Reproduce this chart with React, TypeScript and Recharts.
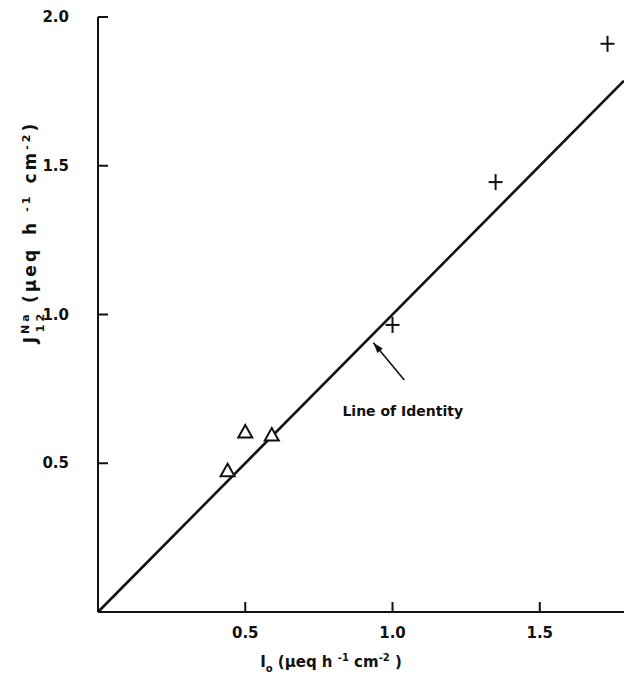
import React from "react";
import {
  ScatterChart,
  Scatter,
  XAxis,
  YAxis,
  ZAxis,
  ReferenceLine,
} from "recharts";

// ─── Data ─────────────────────────────────────────────────────────────────────

const xTicks = [0.5, 1.0, 1.5];
const yTicks = [0.5, 1.0, 1.5, 2.0];

// triangles: low-flux group
const triangleX = [0.44, 0.5, 0.59];
const triangleY = [0.475, 0.605, 0.595];

// crosses: high-flux group
const plusX = [1.0, 1.35, 1.73];
const plusY = [0.965, 1.445, 1.91];

// line of identity end points (x = y)
const identityEnds = [0, 1.786];

// annotation: label anchor, arrow tail and tip (data units)
const labelAt = { x: 0.83, y: 0.675 };
const arrowTail = { x: 1.04, y: 0.78 };
const arrowTip = { x: 0.935, y: 0.905 };

const triangles = triangleX.map((x, i) => ({ x, y: triangleY[i] }));
const pluses = plusX.map((x, i) => ({ x, y: plusY[i] }));

const FONT = "'DejaVu Sans', 'Liberation Sans', sans-serif";
const INK = "#111";

// ─── Ticks (inward tick marks, labels outside) ───────────────────────────────

function XTick({ x, y, payload }: any) {
  return (
    <g>
      <line x1={x} y1={y} x2={x} y2={y - 10} stroke={INK} strokeWidth={2} />
      <text
        x={x}
        y={y + 26}
        textAnchor="middle"
        fontSize={15}
        fontFamily={FONT}
        fontWeight={600}
        fill={INK}
      >
        {payload.value.toFixed(1)}
      </text>
    </g>
  );
}

function YTick({ x, y, payload }: any) {
  return (
    <g>
      <line x1={x} y1={y} x2={x + 10} y2={y} stroke={INK} strokeWidth={2} />
      <text
        x={x - 29}
        y={y + 5}
        textAnchor="end"
        fontSize={15}
        fontFamily={FONT}
        fontWeight={600}
        fill={INK}
      >
        {payload.value.toFixed(1)}
      </text>
    </g>
  );
}

// ─── Marker shapes ───────────────────────────────────────────────────────────

function PlusShape({ cx, cy }: any) {
  return (
    <g stroke={INK} strokeWidth={2}>
      <line x1={cx - 7} y1={cy} x2={cx + 7} y2={cy} />
      <line x1={cx} y1={cy - 8} x2={cx} y2={cy + 8} />
    </g>
  );
}

function TriangleShape({ cx, cy }: any) {
  const s = 7;
  return (
    <polygon
      points={`${cx},${cy - s} ${cx + s},${cy + s * 0.8} ${cx - s},${cy + s * 0.8}`}
      fill="#fff"
      stroke={INK}
      strokeWidth={2}
      strokeLinejoin="miter"
    />
  );
}

function ArrowShape(props: any) {
  const { x1, y1, x2, y2 } = props;
  const ang = Math.atan2(y2 - y1, x2 - x1);
  const len = 11;
  const spread = 0.32;
  const p1 = [x2 - len * Math.cos(ang - spread), y2 - len * Math.sin(ang - spread)];
  const p2 = [x2 - len * Math.cos(ang + spread), y2 - len * Math.sin(ang + spread)];
  return (
    <g>
      <line x1={x1} y1={y1} x2={x2} y2={y2} stroke={INK} strokeWidth={1.6} />
      <polygon points={`${x2},${y2} ${p1[0]},${p1[1]} ${p2[0]},${p2[1]}`} fill={INK} />
    </g>
  );
}

// ─── Axis titles ──────────────────────────────────────────────────────────────

function XTitle({ viewBox }: any) {
  const cx = viewBox.x + 233;
  const cy = viewBox.y + 55;
  return (
    <text
      x={cx}
      y={cy}
      textAnchor="middle"
      fontSize={15}
      fontFamily={FONT}
      fontWeight={600}
      fill={INK}
    >
      <tspan>I</tspan>
      <tspan fontSize={10} dy={5}>o</tspan>
      <tspan dy={-5}>{"  (\u03bceq h "}</tspan>
      <tspan fontSize={10} dy={-6}>-1</tspan>
      <tspan dy={6}>{" cm"}</tspan>
      <tspan fontSize={10} dy={-6}>-2</tspan>
      <tspan dy={6}>{" )"}</tspan>
    </text>
  );
}

function YTitle() {
  const cx = 36;
  const cy = 232;
  return (
    <text
      transform={`translate(${cx},${cy}) rotate(-90)`}
      textAnchor="middle"
      fontSize={17}
      fontFamily={FONT}
      fontWeight={600}
      letterSpacing={3}
      fill={INK}
    >
      <tspan>J</tspan>
      <tspan fontSize={11} dy={-7}>Na</tspan>
      <tspan fontSize={11} dx={-21} dy={15}>12</tspan>
      <tspan dx={8} dy={-8}>(&#956;eq</tspan>
      <tspan dx={12}>h</tspan>
      <tspan fontSize={11} dx={8} dy={-6}>-1</tspan>
      <tspan dx={10} dy={6}>cm</tspan>
      <tspan fontSize={11} dy={-6}>-2</tspan>
      <tspan dy={6}>)</tspan>
    </text>
  );
}

function AnnotationLabel({ viewBox }: any) {
  return (
    <text
      x={viewBox.x}
      y={viewBox.y + 5}
      fontSize={14}
      fontFamily={FONT}
      fontWeight={600}
      fill={INK}
    >
      Line of Identity
    </text>
  );
}

// ─── App ──────────────────────────────────────────────────────────────────────

export default function App() {
  return (
    <div style={{ position: "absolute", left: 0, top: 0, background: "#fff" }}>
      <ScatterChart
        width={624}
        height={681}
        margin={{ top: 17, right: 0, bottom: 9, left: 38 }}
      >
        <XAxis
          type="number"
          dataKey="x"
          domain={[0, identityEnds[1]]}
          ticks={xTicks}
          height={60}
          tickSize={0}
          tickMargin={0}
          tickLine={false}
          axisLine={{ stroke: INK, strokeWidth: 2 }}
          tick={<XTick />}
          label={<XTitle />}
          allowDataOverflow
        />
        <YAxis
          type="number"
          dataKey="y"
          domain={[0, 2]}
          ticks={yTicks}
          width={60}
          tickSize={0}
          tickMargin={0}
          tickLine={false}
          axisLine={{ stroke: INK, strokeWidth: 2 }}
          tick={<YTick />}
          label={<YTitle />}
          allowDataOverflow
        />
        <ZAxis range={[60, 60]} />

        <ReferenceLine
          segment={[
            { x: identityEnds[0], y: identityEnds[0] },
            { x: identityEnds[1], y: identityEnds[1] },
          ]}
          stroke={INK}
          strokeWidth={2.6}
        />
        <ReferenceLine
          segment={[arrowTail, arrowTip]}
          shape={<ArrowShape />}
        />
        <ReferenceLine
          segment={[labelAt, { x: labelAt.x + 0.001, y: labelAt.y }]}
          stroke="none"
          label={<AnnotationLabel />}
        />

        <Scatter data={triangles} shape={<TriangleShape />} isAnimationActive={false} />
        <Scatter data={pluses} shape={<PlusShape />} isAnimationActive={false} />
      </ScatterChart>
    </div>
  );
}
